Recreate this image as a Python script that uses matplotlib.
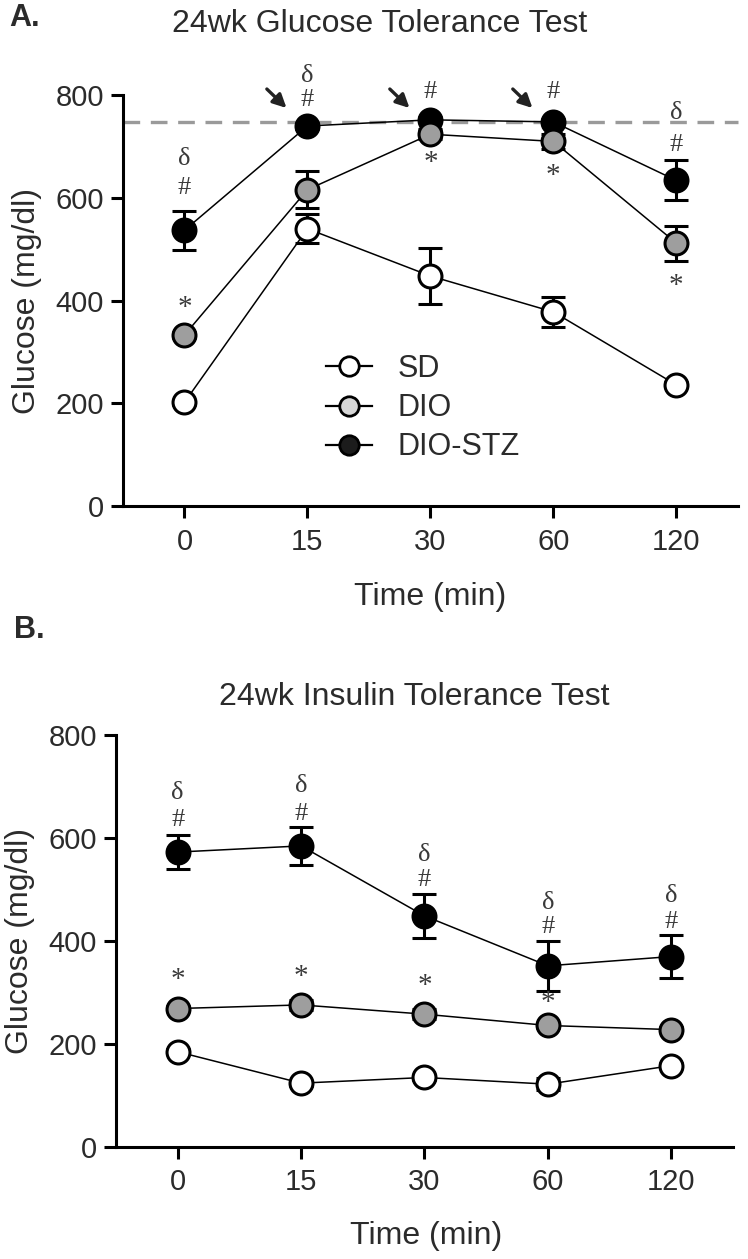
import matplotlib
matplotlib.use("Agg")
import matplotlib.pyplot as plt
from matplotlib.lines import Line2D
import numpy as np

plt.rcParams['font.family'] = ['Liberation Sans', 'DejaVu Sans']

# time points (categorical axis)
time_labels = ['0', '15', '30', '60', '120']
groups = ['SD', 'DIO', 'DIO-STZ']

# 24wk glucose tolerance test (mg/dl, mean and sem)
gtt_sd = [202, 540, 448, 378, 236]
gtt_sd_err = [5, 28, 55, 29, 5]
gtt_dio = [333, 616, 724, 710, 512]
gtt_dio_err = [6, 36, 10, 14, 34]
gtt_stz = [537, 740, 752, 748, 634]
gtt_stz_err = [38, 6, 5, 5, 39]
gtt_limit = 748

# 24wk insulin tolerance test
itt_sd = [185, 124, 135, 122, 158]
itt_sd_err = [5, 5, 5, 12, 5]
itt_dio = [269, 276, 258, 236, 228]
itt_dio_err = [5, 10, 10, 5, 5]
itt_stz = [573, 585, 449, 352, 370]
itt_stz_err = [33, 37, 42, 48, 42]

# significance marks: (time index, glucose level, symbol)
gtt_marks = [(0, 675, 'δ'), (0, 620, '#'), (0, 386, '*'),
             (1, 837, 'δ'), (1, 790, '#'),
             (2, 806, '#'), (2, 668, '*'),
             (3, 806, '#'), (3, 642, '*'),
             (4, 766, 'δ'), (4, 703, '#'), (4, 428, '*')]
itt_marks = [(0, 688, 'δ'), (0, 636, '#'), (0, 325, '*'),
             (1, 701, 'δ'), (1, 647, '#'), (1, 330, '*'),
             (2, 568, 'δ'), (2, 519, '#'), (2, 313, '*'),
             (3, 475, 'δ'), (3, 428, '#'), (3, 280, '*'),
             (4, 488, 'δ'), (4, 438, '#')]
# arrows point at DIO-STZ points that hit the meter limit
gtt_arrow_idx = [1, 2, 3]

fills = {'SD': 'white', 'DIO': '#9e9e9e', 'DIO-STZ': 'black'}
txt = '#2b2b2b'


def draw_panel(ax, series, marks):
    x = np.arange(len(time_labels))
    # black first, grey then white on top
    for name, y, e in series[::-1]:
        ax.errorbar(x, y, yerr=e, fmt='-o', color='black', lw=1.1,
                    ms=16.5, mfc=fills[name], mec='black', mew=2.2,
                    elinewidth=2.2, capsize=8.5, capthick=2.2, zorder=3)
    for i, yv, s in marks:
        fs = 21 if s == '*' else 19
        ax.text(i, yv, s, ha='center', va='center', fontsize=fs,
                family='Liberation Serif', color='#3a3a3a', clip_on=False)
    ax.set_xlim(-0.5, 4.5)
    ax.set_ylim(0, 800)
    ax.set_xticks(x)
    ax.set_xticklabels(time_labels)
    ax.set_yticks([0, 200, 400, 600, 800])
    for s in ['top', 'right']:
        ax.spines[s].set_visible(False)
    for s in ['left', 'bottom']:
        ax.spines[s].set_linewidth(2.2)
    ax.tick_params(width=2.2, length=8.5, labelsize=21, colors='black',
                   labelcolor=txt)
    ax.tick_params(axis='x', pad=7)
    ax.tick_params(axis='y', pad=5)
    ax.set_xlabel('Time (min)', fontsize=23, color=txt, va='center')
    ax.set_ylabel('Glucose (mg/dl)', fontsize=23, color=txt, va='center')


fig = plt.figure(figsize=(7.48, 12.59), dpi=100)

axA = fig.add_axes([0.1644, 0.598, 0.822, 0.3264])
draw_panel(axA, [('SD', gtt_sd, gtt_sd_err), ('DIO', gtt_dio, gtt_dio_err),
                 ('DIO-STZ', gtt_stz, gtt_stz_err)], gtt_marks)
axA.axhline(gtt_limit, color='#9a9a9a', lw=2.4, dashes=(5, 3.2), zorder=1,
            clip_on=False)
for i in gtt_arrow_idx:
    axA.annotate('', xy=(i - 0.17, 775), xytext=(i - 0.33, 812),
                 arrowprops=dict(arrowstyle='-|>', lw=2.4, color='#222222',
                                 mutation_scale=20, shrinkA=0, shrinkB=0),
                 annotation_clip=False)
axA.xaxis.set_label_coords(0.5, -0.221)
axA.yaxis.set_label_coords(-0.156, 0.5)

handles = [Line2D([], [], color='black', lw=1.6, marker='o', ms=14,
                  mfc=c, mec='black', mew=2)
           for c in ['white', '#d6d6d6', '#1c1c1c']]
leg = axA.legend(handles, groups, loc='center left',
                 bbox_to_anchor=(0.33, 0.238), frameon=False, fontsize=22,
                 handlelength=1.5, handletextpad=0.85, labelspacing=0.3,
                 borderpad=0, borderaxespad=0)
for t in leg.get_texts():
    t.set_color(txt)

axB = fig.add_axes([0.155, 0.089, 0.825, 0.327])
draw_panel(axB, [('SD', itt_sd, itt_sd_err), ('DIO', itt_dio, itt_dio_err),
                 ('DIO-STZ', itt_stz, itt_stz_err)], itt_marks)
axB.xaxis.set_label_coords(0.502, -0.216)
axB.yaxis.set_label_coords(-0.156, 0.5)

fig.text(380 / 748, 1 - 24 / 1259, '24wk Glucose Tolerance Test',
         ha='center', va='center', fontsize=23, color=txt)
fig.text(414 / 748, 1 - 697 / 1259, '24wk Insulin Tolerance Test',
         ha='center', va='center', fontsize=23, color=txt)
fig.text(9 / 748, 1 - 18 / 1259, 'A.', ha='left', va='center',
         fontsize=22, fontweight='bold', color=txt)
fig.text(14 / 748, 1 - 630 / 1259, 'B.', ha='left', va='center',
         fontsize=22, fontweight='bold', color=txt)

fig.savefig('out.png', dpi=100)
